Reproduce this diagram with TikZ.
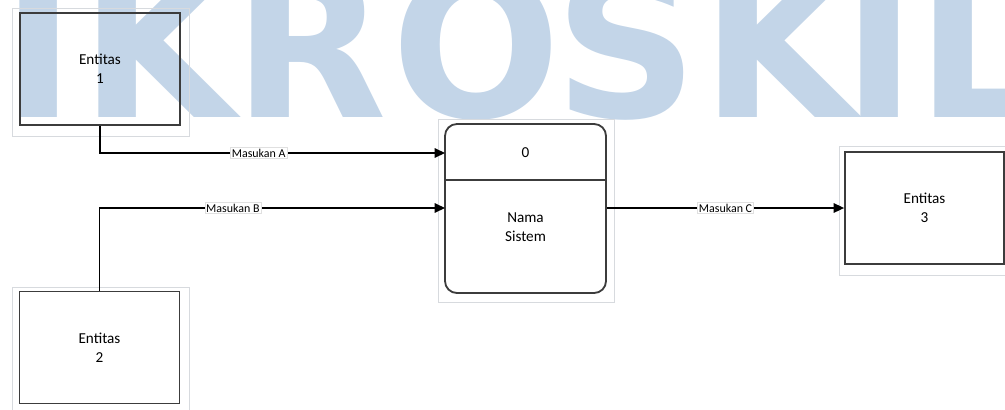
\documentclass[tikz,border=0pt]{standalone}
\usepackage{fontspec}
\setmainfont{Carlito}
\newfontfamily\wmfont{DejaVu Sans}
\usetikzlibrary{arrows.meta}

\definecolor{wmblue}{RGB}{195,213,232}
\definecolor{boxline}{RGB}{60,60,60}
\definecolor{framegray}{RGB}{215,218,222}

\begin{document}
\begin{tikzpicture}[x=0.025cm, y=-0.025cm,
  txt/.style={align=center, font=\fontsize{10.8}{13.5}\selectfont},
  entity/.style={txt, draw=boxline, line width=1.3pt, minimum width=4cm, minimum height=2.8cm},
  flow/.style={line width=0.8pt, -{Triangle[length=2.6mm, width=2.4mm]}},
  lbl/.style={fill=white, draw=black!12, line width=0.3pt, inner sep=1pt, font=\fontsize{8.5}{10}\selectfont},
  wm/.style={text=wmblue, inner sep=0pt, font=\wmfont\bfseries\fontsize{142}{142}\selectfont},
  frame/.style={draw=framegray, line width=0.5pt}]

  \useasboundingbox (0,0) rectangle (1005,409);
  \clip (0,0) rectangle (1005,409);

  % watermark letters
  \foreach \wl/\wx in {I/39, K/158, R/310, O/476, S/626, K/779, I/880, L/980}
    \node[wm, anchor=base] at (\wx,117) {\wl};

  % light frames round the shapes
  \draw[frame] (12,8) rectangle (189,136);
  \draw[frame] (12,287) rectangle (189,420);
  \draw[frame] (438,119) rectangle (614,302);
  \draw[frame] (839,146) rectangle (1015,275);

  % entities
  \node[entity] (ent1) at (100,69) {Entitas\\1};
  \node[entity] (ent2) at (99.5,347.5) {Entitas\\2};
  \node[entity, minimum width=3.975cm] (ent3) at (924.5,208) {Entitas\\3};

  % process 0
  \node[draw=boxline, line width=1.3pt, rounded corners=0.3cm,
        minimum width=4.025cm, minimum height=4.225cm] (proc) at (525.5,208.5) {};
  \draw[boxline, line width=1.3pt] ([yshift=-1.425cm]proc.north west) -- ([yshift=-1.425cm]proc.north east);
  \node[txt] (pnum) at (525.5,153) {0};
  \node[txt] (pname) at (525.5,227.5) {Nama\\Sistem};

  % data flows
  \coordinate (inA) at (445,153);
  \coordinate (inB) at (445,208);
  \draw[flow] (ent1.south) |- node[lbl, pos=0.73] {Masukan A} (inA);
  \draw[flow] (ent2.north) |- node[lbl, pos=0.693] {Masukan B} (inB);
  \draw[flow] (proc.east |- inB) -- node[lbl] {Masukan C} (ent3.west);
\end{tikzpicture}
\end{document}
